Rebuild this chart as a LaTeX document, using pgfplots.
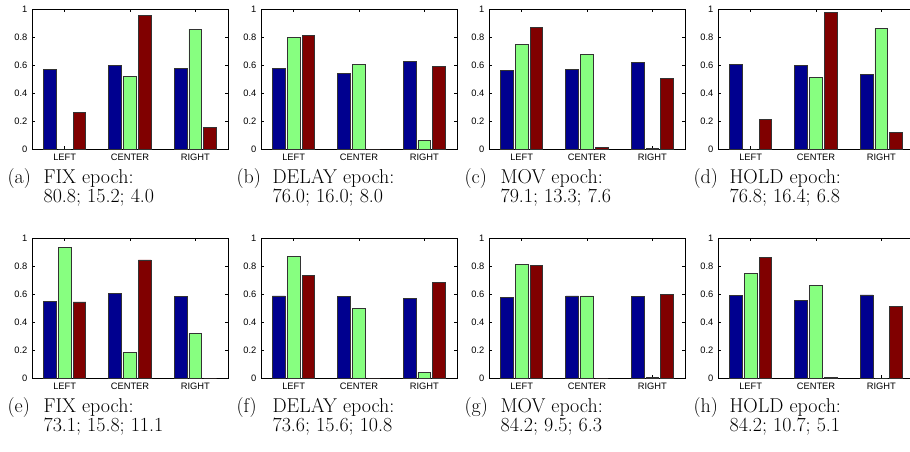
\documentclass[border=0pt]{standalone}
\usepackage{fontspec}
\usepackage{pgfplots}
\usepackage{pgfplotstable}
\pgfplotsset{compat=1.18}
\newfontfamily\helv{Liberation Sans}

\definecolor{mblue}{rgb}{0,0,0.56}
\definecolor{mgreen}{rgb}{0.53,1,0.5}
\definecolor{mred}{rgb}{0.5,0,0}

% one table per panel: LEFT, CENTER, RIGHT at x = 1, 2, 3
\pgfplotstableread{
cat blue green red
1 0.568 0.000 0.260
2 0.597 0.518 0.957
3 0.578 0.857 0.155
}\dataA
\pgfplotstableread{
cat blue green red
1 0.575 0.800 0.814
2 0.537 0.601 0.000
3 0.623 0.062 0.587
}\dataB
\pgfplotstableread{
cat blue green red
1 0.558 0.745 0.869
2 0.568 0.675 0.012
3 0.616 0.002 0.504
}\dataC
\pgfplotstableread{
cat blue green red
1 0.604 0.000 0.212
2 0.597 0.511 0.976
3 0.535 0.862 0.117
}\dataD
\pgfplotstableread{
cat blue green red
1 0.548 0.933 0.543
2 0.607 0.183 0.843
3 0.581 0.317 0.000
}\dataE
\pgfplotstableread{
cat blue green red
1 0.586 0.867 0.733
2 0.583 0.500 0.000
3 0.569 0.038 0.681
}\dataF
\pgfplotstableread{
cat blue green red
1 0.574 0.812 0.802
2 0.586 0.586 0.000
3 0.581 0.005 0.598
}\dataG
\pgfplotstableread{
cat blue green red
1 0.588 0.748 0.862
2 0.552 0.664 0.007
3 0.593 0.000 0.510
}\dataH

\pgfplotsset{
  panel/.style={
    scale only axis, width=147pt, height=105pt,
    anchor=north west,
    xmin=0.5, xmax=3.5, ymin=0, ymax=1,
    xtick={1,2,3}, xticklabels={LEFT,CENTER,RIGHT},
    ytick={0,0.2,0.4,0.6,0.8,1},
    tick align=inside, major tick length=2.2pt,
    axis line style={line width=0.6pt},
    tick style={line width=0.4pt, black},
    tick label style={font=\helv\fontsize{7}{8}\selectfont},
    /pgf/number format/assume math mode=true,
  },
  mbar/.style={ybar, bar width=9.6pt, draw=black!80, line width=0.6pt},
}
\tikzset{captxt/.style={anchor=base west, inner sep=0pt, font=\fontsize{15}{17}\selectfont}}

% #1 letter, #2 position, #3 table, #4 epoch, #5 percentages
\newcommand{\panel}[5]{%
  \begin{axis}[panel, name=#1, at={#2}]
    \addplot[mbar, fill=mblue, bar shift=-11.1pt] table[x=cat, y=blue] {#3};
    \addplot[mbar, fill=mgreen, bar shift=0pt] table[x=cat, y=green] {#3};
    \addplot[mbar, fill=mred, bar shift=11.1pt] table[x=cat, y=red] {#3};
  \end{axis}
  \node[captxt] at ([shift={(-18.5pt,-26pt)}]#1.south west) {(#1)};
  \node[captxt] at ([shift={(8.5pt,-26pt)}]#1.south west) {#4 epoch:};
  \node[captxt] at ([shift={(8.5pt,-40pt)}]#1.south west) {#5};
}

\begin{document}
\begin{tikzpicture}
\path[use as bounding box] (0,0) rectangle (682.5pt,-338.25pt);
\clip (0,0) rectangle (682.5pt,-338.25pt);
\panel{a}{(24pt,-6.75pt)}{\dataA}{FIX}{80.8; 15.2; 4.0}
\panel{b}{(195.75pt,-6.75pt)}{\dataB}{DELAY}{76.0; 16.0; 8.0}
\panel{c}{(366.75pt,-6.75pt)}{\dataC}{MOV}{79.1; 13.3; 7.6}
\panel{d}{(538.5pt,-6.75pt)}{\dataD}{HOLD}{76.8; 16.4; 6.8}
\panel{e}{(24pt,-178.5pt)}{\dataE}{FIX}{73.1; 15.8; 11.1}
\panel{f}{(195.75pt,-178.5pt)}{\dataF}{DELAY}{73.6; 15.6; 10.8}
\panel{g}{(366.75pt,-178.5pt)}{\dataG}{MOV}{84.2; 9.5; 6.3}
\panel{h}{(538.5pt,-178.5pt)}{\dataH}{HOLD}{84.2; 10.7; 5.1}
\end{tikzpicture}
\end{document}
